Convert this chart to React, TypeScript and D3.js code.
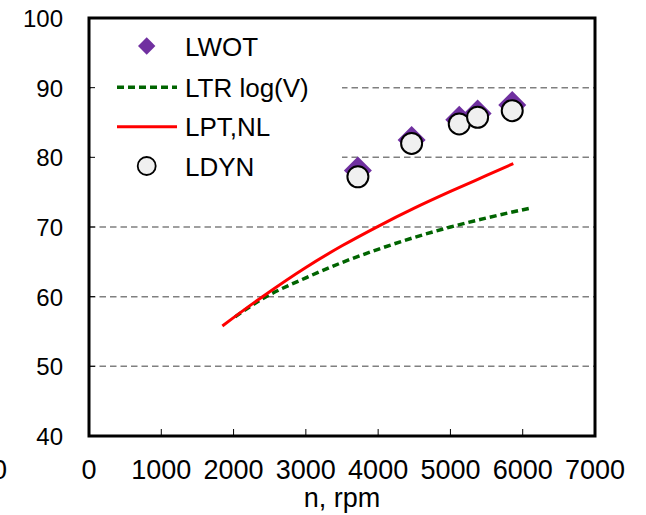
import React from "react";
import * as d3 from "d3";

const rpmPoints = [3720, 4463, 5122, 5376, 5855];
const lwot = [78.1, 82.5, 85.4, 86.3, 87.5];
const ldyn = [77.2, 82.0, 84.8, 85.75, 86.7];

const ltrRpm = [2020, 2400, 3000, 3500, 4000, 4500, 5000, 5500, 6100];
const ltrVal = [57.1, 59.7, 62.7, 64.9, 66.8, 68.5, 70.0, 71.3, 72.7];

const lptRpm = [1845, 2400, 3000, 3500, 4000, 4500, 5000, 5500, 5870];
const lptVal = [55.8, 60.0, 64.2, 67.3, 70.1, 72.7, 75.1, 77.4, 79.1];

const xTicks = [0, 1000, 2000, 3000, 4000, 5000, 6000, 7000];
const yTicks = [40, 50, 60, 70, 80, 90, 100];
const gridVals = [50, 60, 70, 80, 90];

const legendLabels = ["LWOT", "LTR log(V)", "LPT,NL", "LDYN"];

const W = 646, H = 515;
const L = 89, R = 595, T = 18, B = 436;
const FONT = "'Liberation Sans', Arial, sans-serif";

export default function App() {
  const x = d3.scaleLinear().domain([0, 7000]).range([L, R]);
  const y = d3.scaleLinear().domain([40, 100]).range([B, T]);
  const line = d3.line<[number, number]>().x(d => x(d[0])).y(d => y(d[1])).curve(d3.curveMonotoneX);
  const ltr = ltrRpm.map((r, i) => [r, ltrVal[i]] as [number, number]);
  const lpt = lptRpm.map((r, i) => [r, lptVal[i]] as [number, number]);
  const diamond = (cx: number, cy: number, h: number) =>
    `M${cx},${cy - h}L${cx + h},${cy}L${cx},${cy + h}L${cx - h},${cy}Z`;

  return (
    <svg width={W} height={H} style={{ position: "absolute", left: 0, top: 0, background: "#fff" }}>
      <rect x={0} y={0} width={W} height={H} fill="#fff" />
      {gridVals.map(v => (
        <line key={v} x1={L} x2={R} y1={y(v)} y2={y(v)} stroke="#808080" strokeWidth={1.5} strokeDasharray="6.5,4" />
      ))}
      {/* legend background */}
      <rect x={L + 2} y={T + 3} width={251} height={170} fill="#fff" />
      {/* ticks */}
      {yTicks.slice(1, -1).map(v => (
        <line key={v} x1={L} x2={L + 6} y1={y(v)} y2={y(v)} stroke="#000" strokeWidth={1} />
      ))}
      {xTicks.slice(1, -1).map(v => (
        <line key={v} x1={x(v)} x2={x(v)} y1={B} y2={B - 7} stroke="#000" strokeWidth={1} />
      ))}
      {/* lines */}
      <path d={line(ltr) || ""} fill="none" stroke="#006400" strokeWidth={3.5} strokeDasharray="7,4" />
      <path d={line(lpt) || ""} fill="none" stroke="#ff0000" strokeWidth={3} />
      {/* markers */}
      {rpmPoints.map((r, i) => (
        <path key={"d" + i} d={diamond(x(r), y(lwot[i]), 14)} fill="#7030A0" />
      ))}
      {rpmPoints.map((r, i) => (
        <circle key={"c" + i} cx={x(r)} cy={y(ldyn[i])} r={10.5} fill="#f0f0f0" stroke="#000" strokeWidth={2} />
      ))}
      {/* frame */}
      <rect x={L} y={T} width={R - L} height={B - T} fill="none" stroke="#000" strokeWidth={3} />
      {/* legend */}
      <g fontFamily={FONT} fontSize={26} fill="#000">
        <path d={diamond(146.7, 46, 8.7)} fill="#7030A0" />
        <text x={185} y={56}>{legendLabels[0]}</text>
        <line x1={117} x2={177} y1={87.3} y2={87.3} stroke="#006400" strokeWidth={3.5} strokeDasharray="7,4" />
        <text x={185} y={96.5}>{legendLabels[1]}</text>
        <line x1={117} x2={177} y1={126.7} y2={126.7} stroke="#ff0000" strokeWidth={3} />
        <text x={185} y={136}>{legendLabels[2]}</text>
        <circle cx={146.7} cy={166} r={9} fill="#f0f0f0" stroke="#000" strokeWidth={1.8} />
        <text x={185} y={176}>{legendLabels[3]}</text>
      </g>
      {/* y labels */}
      <g fontFamily={FONT} fontSize={24} fill="#000" textAnchor="end">
        {yTicks.map(v => (
          <text key={v} x={63} y={y(v) + 9}>{v}</text>
        ))}
      </g>
      {/* x labels */}
      <g fontFamily={FONT} fontSize={27} fill="#000" textAnchor="middle">
        {xTicks.map(v => (
          <text key={v} x={x(v)} y={479}>{v}</text>
        ))}
        <text x={7} y={479} textAnchor="end">0</text>
        <text x={(L + R) / 2} y={507}>n, rpm</text>
      </g>
    </svg>
  );
}
